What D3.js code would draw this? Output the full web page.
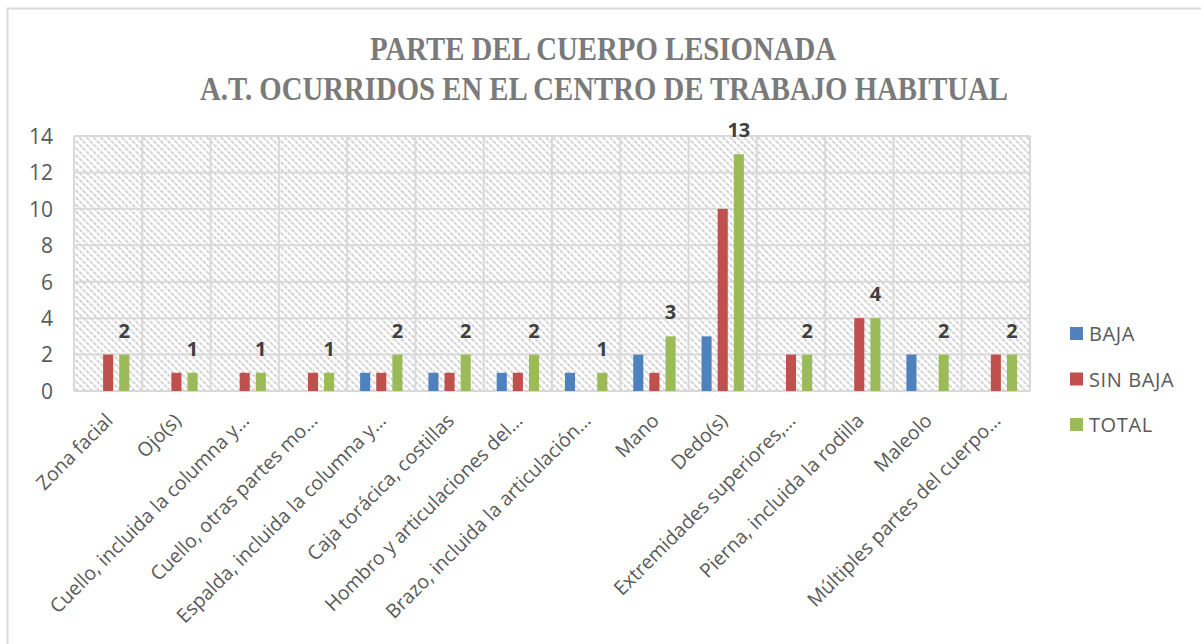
<!DOCTYPE html>
<html lang="es">
<head>
  <meta charset="UTF-8">
  <script src="https://d3js.org/d3.v7.min.js"></script>
  <title>Parte del cuerpo lesionada</title>
  <style>
    body { margin: 0; background: #fff; }
  </style>
</head>
<body>
  <script type="text/javascript">

    const w = 1201;
    const h = 644;

    // data
    var categories = ["Zona facial", "Ojo(s)", "Cuello, incluida la columna y…", "Cuello, otras partes mo…",
      "Espalda, incluida la columna y…", "Caja torácica, costillas", "Hombro y articulaciones del…",
      "Brazo, incluida la articulación…", "Mano", "Dedo(s)", "Extremidades superiores,…",
      "Pierna, incluida la rodilla", "Maleolo", "Múltiples partes del cuerpo…"];
    var seriesNames = ["BAJA", "SIN BAJA", "TOTAL"];
    var baja = [0, 0, 0, 0, 1, 1, 1, 1, 2, 3, 0, 0, 2, 0];
    var sinBaja = [2, 1, 1, 1, 1, 1, 1, 0, 1, 10, 2, 4, 0, 2];
    var total = [2, 1, 1, 1, 2, 2, 2, 1, 3, 13, 2, 4, 2, 2];
    var yTicks = [0, 2, 4, 6, 8, 10, 12, 14];
    var colors = ["#4F81BD", "#C0504D", "#9BBB59"];

    var seriesValues = [baja, sinBaja, total];

    var svg = d3.select("body")
      .append("svg")
      .attr("width", w)
      .attr("height", h);

    // hatch pattern for the plot background
    var defs = svg.append("defs");
    var pat = defs.append("pattern")
      .attr("id", "hatch")
      .attr("patternUnits", "userSpaceOnUse")
      .attr("width", 5)
      .attr("height", 5)
      .attr("patternTransform", "rotate(45)");
    pat.append("rect").attr("width", 5).attr("height", 5).attr("fill", "#fff");
    pat.append("line")
      .attr("x1", 0).attr("y1", 1).attr("x2", 5).attr("y2", 1)
      .attr("stroke", "#d4d4d4")
      .attr("stroke-width", 2)
      .attr("stroke-dasharray", "2,1");

    // chart frame
    svg.append("rect")
      .attr("x", 7.5).attr("y", 8.5)
      .attr("width", 1210).attr("height", 650)
      .attr("fill", "none")
      .attr("stroke", "#d9d9d9")
      .attr("stroke-width", 2);

    // title
    var title = svg.append("g")
      .attr("font-family", "'Liberation Serif', serif")
      .attr("font-weight", "bold")
      .attr("font-size", "33px")
      .attr("fill", "#7a7a7a")
      .attr("text-anchor", "middle");
    title.append("text")
      .attr("x", 603).attr("y", 60)
      .attr("textLength", 466)
      .attr("lengthAdjust", "spacingAndGlyphs")
      .text("PARTE DEL CUERPO LESIONADA");
    title.append("text")
      .attr("x", 604).attr("y", 100)
      .attr("textLength", 808)
      .attr("lengthAdjust", "spacingAndGlyphs")
      .text("A.T. OCURRIDOS EN EL CENTRO DE TRABAJO HABITUAL");

    var plotLeft = 74, plotRight = 1030, plotTop = 136, plotBottom = 391;

    var x0 = d3.scaleBand()
      .domain(categories)
      .range([plotLeft, plotRight])
      .padding(0);

    var bw = x0.bandwidth();
    var x1 = d3.scaleBand()
      .domain(seriesNames)
      .range([bw * 0.19, bw * 0.81])
      .paddingInner(0.375);

    var y = d3.scaleLinear()
      .domain([0, 14])
      .range([plotBottom, plotTop]);

    // plot background
    svg.append("rect")
      .attr("x", plotLeft).attr("y", plotTop)
      .attr("width", plotRight - plotLeft).attr("height", plotBottom - plotTop)
      .attr("fill", "url(#hatch)");

    // horizontal gridlines
    svg.append("g")
      .selectAll("line")
      .data(yTicks)
      .enter()
      .append("line")
      .attr("x1", plotLeft).attr("x2", plotRight)
      .attr("y1", function (d) { return y(d); })
      .attr("y2", function (d) { return y(d); })
      .attr("stroke", "#d9d9d9")
      .attr("stroke-width", 2);

    // vertical gridlines at category boundaries
    var bounds = categories.map(function (c) { return x0(c); }).concat([plotRight]);
    svg.append("g")
      .selectAll("line")
      .data(bounds)
      .enter()
      .append("line")
      .attr("x1", function (d) { return d; })
      .attr("x2", function (d) { return d; })
      .attr("y1", plotTop).attr("y2", plotBottom)
      .attr("stroke", "#d9d9d9")
      .attr("stroke-width", 2);

    // y axis
    var yAxis = d3.axisLeft(y).tickValues(yTicks).tickSize(0).tickPadding(0);
    var gy = svg.append("g")
      .attr("transform", "translate(" + 53 + ",0)")
      .call(yAxis);
    gy.select(".domain").remove();
    gy.selectAll("text")
      .attr("font-family", "'Open Sans', sans-serif")
      .attr("font-size", "21px")
      .attr("fill", "#595959")
      .attr("dy", "0.35em");

    // bars
    seriesNames.forEach(function (s, si) {
      svg.append("g")
        .selectAll("rect")
        .data(seriesValues[si])
        .enter()
        .append("rect")
        .attr("x", function (d, i) { return x0(categories[i]) + x1(s); })
        .attr("y", function (d) { return y(d); })
        .attr("width", x1.bandwidth())
        .attr("height", function (d) { return y(0) - y(d); })
        .attr("fill", colors[si]);
    });

    // data labels over TOTAL
    svg.append("g")
      .selectAll("text")
      .data(total)
      .enter()
      .append("text")
      .text(function (d) { return d; })
      .attr("x", function (d, i) { return x0(categories[i]) + x1("TOTAL") + x1.bandwidth() / 2; })
      .attr("y", function (d) { return y(d) - 17; })
      .attr("font-family", "'Open Sans', sans-serif")
      .attr("font-weight", "bold")
      .attr("font-size", "20px")
      .attr("fill", "#404040")
      .attr("text-anchor", "middle");

    // x axis labels, rotated
    var xAxis = d3.axisBottom(x0).tickSize(0).tickPadding(0);
    var gx = svg.append("g")
      .attr("transform", "translate(0," + plotBottom + ")")
      .call(xAxis);
    gx.select(".domain").remove();
    gx.selectAll("text")
      .attr("font-family", "'Open Sans', sans-serif")
      .attr("font-size", "19.5px")
      .attr("fill", "#595959")
      .attr("text-anchor", "end")
      .attr("dy", "0.35em")
      .attr("transform", "translate(1,26) rotate(-45)");

    // legend
    var legend = svg.append("g")
      .selectAll("g")
      .data(seriesNames)
      .enter()
      .append("g")
      .attr("transform", function (d, i) { return "translate(1070," + (334 + i * 45.5) + ")"; });
    legend.append("rect")
      .attr("x", 0).attr("y", -7)
      .attr("width", 13).attr("height", 13)
      .attr("fill", function (d, i) { return colors[i]; });
    legend.append("text")
      .attr("x", 19).attr("dy", "0.35em")
      .attr("font-family", "'Open Sans', sans-serif")
      .attr("font-size", "20px")
      .attr("letter-spacing", "0.6px")
      .attr("fill", "#595959")
      .text(function (d) { return d; });

  </script>
</body>
</html>
